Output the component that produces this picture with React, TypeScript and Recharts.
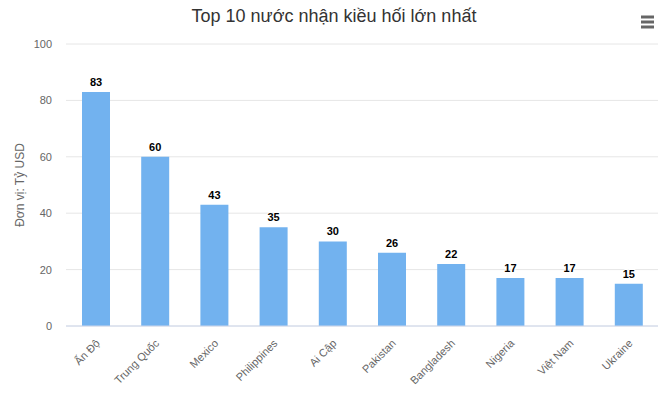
import { BarChart, Bar, XAxis, YAxis, CartesianGrid, LabelList } from 'recharts'

const countries = ['Ấn Độ', 'Trung Quốc', 'Mexico', 'Philippines', 'Ai Cập', 'Pakistan', 'Bangladesh', 'Nigeria', 'Việt Nam', 'Ukraine']
const remittances = [83, 60, 43, 35, 30, 26, 22, 17, 17, 15]
const yTicks = [0, 20, 40, 60, 80, 100]

const data = countries.map((name, i) => ({ name, value: remittances[i] }))

const font = '"Liberation Sans", Arial, Helvetica, sans-serif'

function XTick({ x, y, payload }: any) {
  const tx = x + 5
  const ty = y + 10
  return (
    <text x={tx} y={ty} textAnchor='end' fontSize={11} fill='#666' fontFamily={font}
      transform={`rotate(-45 ${tx} ${ty})`}>
      {payload.value}
    </text>
  )
}

export default function App() {
  return (
    <div style={{ position: 'absolute', left: 0, top: 0, width: 668, height: 398, background: 'white', fontFamily: font }}>
      <div style={{ position: 'absolute', top: 6, left: 0, width: 668, textAlign: 'center',
        fontSize: 18, color: '#333' }}>
        Top 10 nước nhận kiều hối lớn nhất
      </div>
      <svg width={20} height={20} style={{ position: 'absolute', left: 638, top: 12 }}>
        {[5, 10, 15].map(y => <line key={y} x1={3} x2={16} y1={y} y2={y} stroke='#666' strokeWidth={3} />)}
      </svg>
      <BarChart width={668} height={398} data={data}
        margin={{ top: 44, right: 10, bottom: 0, left: 26 }}>
        <CartesianGrid vertical={false} stroke='#e6e6e6' />
        <XAxis dataKey='name' interval={0} height={72} tick={<XTick />}
          axisLine={{ stroke: '#ccd6eb' }} tickLine={false} />
        <YAxis domain={[0, 100]} ticks={yTicks} width={40} axisLine={false} tickLine={false}
          tick={{ fontSize: 11, fill: '#666', fontFamily: font, dx: -6 }}
          label={{ value: 'Đơn vị: Tỷ USD', angle: -90, position: 'insideLeft', offset: -6,
            style: { fontSize: 12, fill: '#666', fontFamily: font, textAnchor: 'middle' } }} />
        <Bar dataKey='value' fill='#72b2ef' barSize={28} isAnimationActive={false}>
          <LabelList dataKey='value' position='top' offset={6}
            style={{ fontSize: 11, fontWeight: 'bold', fill: '#000', fontFamily: font,
              stroke: '#fff', strokeWidth: 2, paintOrder: 'stroke' }} />
        </Bar>
      </BarChart>
    </div>
  )
}
